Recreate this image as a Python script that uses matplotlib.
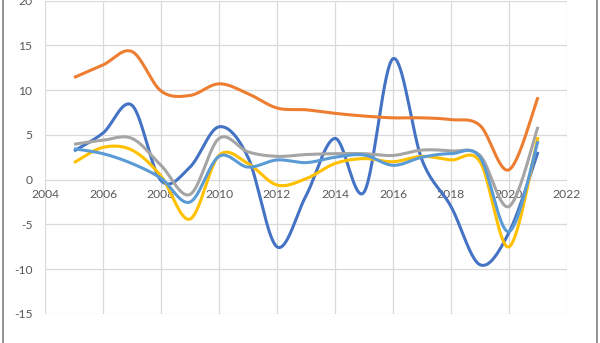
import numpy as np
import matplotlib
matplotlib.use("Agg")
import matplotlib.pyplot as plt
from matplotlib.patches import Rectangle

years = list(range(2005, 2022))

series_dark_blue = [3.2, 5.2, 8.3, -0.1, 1.4, 5.9, 2.5, -7.5, -1.8, 4.6, -1.4, 13.5, 2.2, -3.0, -9.5, -5.9, 3.1]
series_orange = [11.4, 12.8, 14.3, 9.9, 9.4, 10.7, 9.6, 8.0, 7.8, 7.4, 7.1, 6.9, 6.9, 6.7, 6.05, 1.1, 9.2]
series_gray = [3.95, 4.4, 4.6, 1.6, -1.65, 4.6, 3.1, 2.6, 2.8, 2.9, 2.9, 2.7, 3.3, 3.2, 2.7, -3.0, 5.9]
series_yellow = [1.9, 3.6, 3.3, 0.4, -4.4, 2.7, 1.8, -0.6, 0.1, 1.8, 2.35, 2.0, 2.6, 2.2, 2.0, -7.5, 4.75]
series_light_blue = [3.45, 2.9, 1.8, 0.15, -2.5, 2.6, 1.4, 2.2, 1.9, 2.5, 2.75, 1.6, 2.5, 2.9, 2.5, -5.8, 4.3]

x_ticks = list(range(2004, 2023, 2))
y_ticks = list(range(-15, 21, 5))

colors = ["#4472C4", "#ED7D31", "#A5A5A5", "#FFC000", "#5B9BD5"]


def smooth(xs, ys, n=40):
    xs = np.asarray(xs, float)
    ys = np.asarray(ys, float)
    P = np.column_stack([xs, ys])
    out = []
    m = len(P)
    for i in range(m - 1):
        p0 = P[i - 1] if i > 0 else P[i]
        p1 = P[i]
        p2 = P[i + 1]
        p3 = P[i + 2] if i + 2 < m else P[i + 1]
        c1 = p1 + (p2 - p0) / 6.0
        c2 = p2 - (p3 - p1) / 6.0
        t = np.linspace(0, 1, n)[:, None]
        seg = ((1 - t) ** 3) * p1 + 3 * ((1 - t) ** 2) * t * c1 + 3 * (1 - t) * t ** 2 * c2 + t ** 3 * p2
        if i > 0:
            seg = seg[1:]
        out.append(seg)
    out = np.vstack(out)
    return out[:, 0], out[:, 1]


plt.rcParams["font.family"] = ["Lato", "DejaVu Sans"]

fig = plt.figure(figsize=(6.0, 3.43), dpi=100)
ax = fig.add_axes([45 / 600, 1 - 314 / 343, 522 / 600, 313.5 / 343])

for ys, c in zip([series_dark_blue, series_orange, series_gray, series_yellow, series_light_blue], colors):
    sx, sy = smooth(years, ys)
    ax.plot(sx, sy, color=c, lw=2.2, solid_capstyle="butt", zorder=3)

ax.set_xlim(2004, 2022)
ax.set_ylim(-15, 20)
ax.set_xticks(x_ticks)
ax.set_yticks(y_ticks)
ax.grid(True, color="#D9D9D9", lw=0.9)
ax.set_axisbelow(True)
for s in ax.spines.values():
    s.set_visible(False)
ax.spines["bottom"].set_position(("data", 0))
ax.tick_params(axis="both", length=0, colors="#595959", labelsize=8.7)
ax.tick_params(axis="x", pad=7)
ax.tick_params(axis="y", pad=9)
ax.set_xticklabels([str(v) for v in x_ticks])
ax.set_yticklabels([str(v) for v in y_ticks])

fig.patches.append(Rectangle((3 / 600, -0.2), 594 / 600, 1.4, transform=fig.transFigure,
                             fill=False, edgecolor="#7F7F7F", lw=1.2))

fig.savefig("out.png", dpi=100)
